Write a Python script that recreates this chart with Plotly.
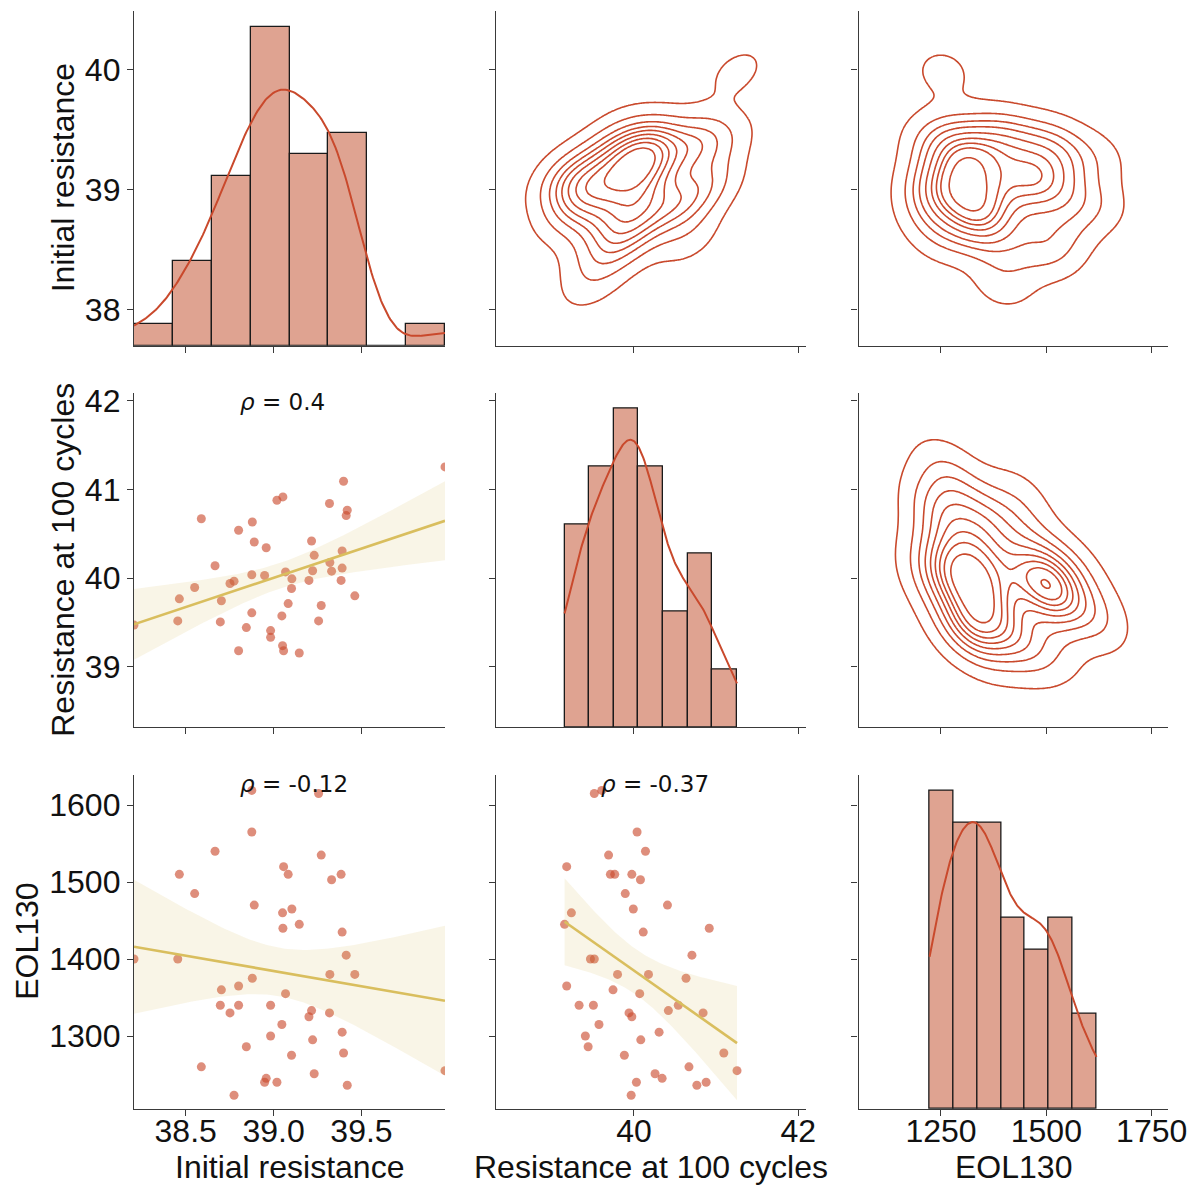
import numpy as np
import plotly.graph_objects as go

# ---- data: one row per cell (48 cells) ----
initial_resistance = [
    39.975, 39.398, 39.019, 39.053, 39.318, 39.419, 39.413, 38.589, 38.879, 38.801,
    38.890, 38.958, 39.216, 39.231, 39.390, 38.667, 39.320, 39.222, 39.330, 39.390,
    38.876, 38.949, 39.068, 39.104, 39.201, 39.384, 38.752, 38.775, 38.551, 39.102,
    38.464, 38.703, 39.462, 39.083, 39.271, 38.876, 39.047, 38.455, 38.697, 39.256,
    38.845, 38.983, 38.983, 39.051, 39.057, 38.801, 39.146, 38.206,
]
resistance_100 = [
    41.255, 41.094, 40.879, 40.917, 40.842, 40.766, 40.706, 40.670, 40.634, 40.540,
    40.408, 40.343, 40.419, 40.257, 40.306, 40.140, 40.177, 40.083, 40.079, 40.113,
    40.038, 40.030, 40.070, 39.992, 39.974, 39.974, 39.940, 39.966, 39.894, 39.883,
    39.766, 39.745, 39.800, 39.713, 39.691, 39.608, 39.574, 39.517, 39.506, 39.517,
    39.442, 39.408, 39.332, 39.238, 39.181, 39.181, 39.155, 39.470,
]
eol130 = [
    1255, 1278, 1240, 1440, 1330, 1236, 1405, 1260, 1375, 1340,
    1470, 1245, 1333, 1251, 1305, 1540, 1380, 1295, 1503, 1435,
    1565, 1240, 1355, 1465, 1325, 1510, 1330, 1223, 1485, 1275,
    1510, 1360, 1380, 1510, 1535, 1619, 1315, 1400, 1340, 1615,
    1286, 1300, 1340, 1460, 1520, 1365, 1445, 1400,
]

variable_names = ["Initial resistance", "Resistance at 100 cycles", "EOL130"]
hist_bins = [8, 7, 7]
# correlation coefficients printed in the lower panels: (row, col) -> rho
rho_values = {(1, 0): "0.4", (2, 0): "-0.12", (2, 1): "-0.37"}

x_tickvals = [[38.5, 39.0, 39.5], [40, 42], [1250, 1500, 1750]]
y_tickvals = [[38, 39, 40], [39, 40, 41, 42], [1300, 1400, 1500, 1600]]
x_fmt = ["{:.1f}", "{:.0f}", "{:.0f}"]
y_fmt = ["{:.0f}", "{:.0f}", "{:.0f}"]

# ---- style ----
RED = "#C9492C"
HIST_FILL = "#DFA391"
POINT = "rgba(201,73,44,0.62)"
REG_LINE = "#D9BE5E"
REG_BAND = "rgba(217,190,94,0.15)"
AXIS = "#3a3a3a"
FONT = "Liberation Sans, Arial, sans-serif"

W, H = 1192, 1187
col_px = [(134, 445), (496, 806), (858.5, 1168.3)]
row_px = [(11, 345.7), (392.5, 727), (774.7, 1109)]
x_dom = [[a / W, b / W] for a, b in col_px]
y_dom = [[1 - b / H, 1 - a / H] for a, b in row_px]

data = [np.array(initial_resistance, float), np.array(resistance_100, float),
        np.array(eol130, float)]
n = len(data[0])

x_ranges = [[data[0].min(), data[0].max()], [38.32, 42.095], [1054.3, 1789.4]]
y_ranges = [[37.697, 40.486], [38.32, 42.095], [1205.2, 1639.4]]


def kde1d(v, grid):
    bw = v.std(ddof=1) * n ** (-1 / 5)
    z = (grid[:, None] - v[None, :]) / bw
    return np.exp(-0.5 * z ** 2).sum(axis=1) / (n * bw * np.sqrt(2 * np.pi))


def kde2d_isoprop(x, y, gridsize=200, cut=3):
    pts = np.vstack([x, y])
    cov = np.cov(pts) * (n ** (-1 / 6)) ** 2
    bw = np.sqrt(np.diag(cov))
    gx = np.linspace(x.min() - cut * bw[0], x.max() + cut * bw[0], gridsize)
    gy = np.linspace(y.min() - cut * bw[1], y.max() + cut * bw[1], gridsize)
    inv = np.linalg.inv(cov)
    XX, YY = np.meshgrid(gx, gy)
    dens = np.zeros_like(XX)
    for xi, yi in zip(x, y):
        dx, dy = XX - xi, YY - yi
        q = inv[0, 0] * dx * dx + 2 * inv[0, 1] * dx * dy + inv[1, 1] * dy * dy
        dens += np.exp(-0.5 * q)
    # map density to the share of probability mass lying below it
    flat = dens.ravel()
    order = np.argsort(flat)[::-1]
    cum = np.cumsum(flat[order]) / flat.sum()
    prop = np.empty_like(flat)
    prop[order] = 1 - cum
    return gx.tolist(), gy.tolist(), prop.reshape(dens.shape).tolist()


def ax_name(kind, k):
    return kind if k == 1 else f"{kind}{k}"


def axis_style(**kw):
    base = dict(showgrid=False, zeroline=False, showline=True, linecolor=AXIS,
                linewidth=1.3, ticks="outside", ticklen=6, tickwidth=1.3,
                tickcolor=AXIS, automargin=False,
                tickfont=dict(family=FONT, size=32, color="#111"))
    base.update(kw)
    return base


fig = go.Figure()
layout = {}

for r in range(3):
    for c in range(3):
        k = r * 3 + c + 1
        xs, ys = ax_name("x", k), ax_name("y", k)
        layout[ax_name("xaxis", k)] = axis_style(
            domain=x_dom[c], anchor=ys, range=x_ranges[c], tickmode="array",
            tickvals=x_tickvals[c], ticktext=[x_fmt[c].format(t) for t in x_tickvals[c]],
            showticklabels=(r == 2), ticklabelstandoff=-13)

        xv, yv = data[c], data[r]
        y_text = [y_fmt[r].format(t) for t in y_tickvals[r]]
        if r == c:
            # histogram with kde; the y axis carries the count scale while its
            # ticks mark the row variable, as the other panels of the row do
            counts, edges = np.histogram(xv, bins=hist_bins[r], range=(xv.min(), xv.max()))
            width = edges[1] - edges[0]
            centers = (edges[:-1] + edges[1:]) / 2
            top = counts.max() * 1.05
            lo, hi = y_ranges[r]
            tick_pos = [(t - lo) / (hi - lo) * top for t in y_tickvals[r]]
            layout[ax_name("yaxis", k)] = axis_style(
                domain=y_dom[r], anchor=xs, range=[0, top], tickmode="array",
                tickvals=tick_pos, ticktext=y_text, showticklabels=(c == 0))
            fig.add_trace(go.Bar(
                x=centers.tolist(), y=counts.tolist(), width=width, xaxis=xs, yaxis=ys,
                marker=dict(color=HIST_FILL, line=dict(color="#1a1a1a", width=1.3)),
                showlegend=False, hoverinfo="skip"))
            grid = np.linspace(xv.min(), xv.max(), 200)
            fig.add_trace(go.Scatter(
                x=grid.tolist(), y=(kde1d(xv, grid) * n * width).tolist(), mode="lines",
                xaxis=xs, yaxis=ys, line=dict(color=RED, width=2),
                showlegend=False, hoverinfo="skip"))
            continue

        layout[ax_name("yaxis", k)] = axis_style(
            domain=y_dom[r], anchor=xs, range=y_ranges[r], tickmode="array",
            tickvals=y_tickvals[r], ticktext=y_text, showticklabels=(c == 0))
        if r < c:
            gx, gy, prop = kde2d_isoprop(xv, yv)
            fig.add_trace(go.Contour(
                x=gx, y=gy, z=prop, xaxis=xs, yaxis=ys, autocontour=False,
                contours=dict(start=0.05, end=0.9, size=0.95 / 9, coloring="lines"),
                colorscale=[[0, RED], [1, RED]], line=dict(width=1.6),
                showscale=False, hoverinfo="skip"))
        else:
            fig.add_trace(go.Scatter(
                x=xv.tolist(), y=yv.tolist(), mode="markers", xaxis=xs, yaxis=ys,
                marker=dict(color=POINT, size=9, line=dict(width=0)),
                showlegend=False, hoverinfo="skip"))
            # least squares fit with 95% confidence band
            slope, intercept = np.polyfit(xv, yv, 1)
            grid = np.linspace(xv.min(), xv.max(), 100)
            fit = intercept + slope * grid
            resid = yv - (intercept + slope * xv)
            s = np.sqrt((resid ** 2).sum() / (n - 2))
            sxx = ((xv - xv.mean()) ** 2).sum()
            se = s * np.sqrt(1 / n + (grid - xv.mean()) ** 2 / sxx)
            t975 = 2.013
            fig.add_trace(go.Scatter(
                x=grid.tolist(), y=(fit + t975 * se).tolist(), mode="lines",
                xaxis=xs, yaxis=ys, line=dict(width=0, color=REG_BAND),
                showlegend=False, hoverinfo="skip"))
            fig.add_trace(go.Scatter(
                x=grid.tolist(), y=(fit - t975 * se).tolist(), mode="lines",
                xaxis=xs, yaxis=ys, fill="tonexty", fillcolor=REG_BAND,
                line=dict(width=0, color=REG_BAND), showlegend=False, hoverinfo="skip"))
            fig.add_trace(go.Scatter(
                x=grid.tolist(), y=fit.tolist(), mode="lines", xaxis=xs, yaxis=ys,
                line=dict(color=REG_LINE, width=2.6), showlegend=False, hoverinfo="skip"))

annotations = []
for (r, c), val in rho_values.items():
    k = r * 3 + c + 1
    annotations.append(dict(
        text=f"<i>ρ</i> = {val}", xref=f"{ax_name('x', k)} domain",
        yref=f"{ax_name('y', k)} domain", x=0.333, y=0.972, xanchor="left",
        yanchor="middle", showarrow=False,
        font=dict(family="DejaVu Sans, sans-serif", size=23, color="#111")))

# axis titles
for c, name in enumerate(variable_names):
    annotations.append(dict(
        text=name, xref="paper", yref="paper", x=sum(x_dom[c]) / 2, y=1 - 1167 / H,
        xanchor="center", yanchor="middle", showarrow=False,
        font=dict(family=FONT, size=32, color="#111")))
y_title_x = [63, 63, 27]
for r, name in enumerate(variable_names):
    annotations.append(dict(
        text=name, xref="paper", yref="paper", x=y_title_x[r] / W, y=sum(y_dom[r]) / 2,
        xanchor="center", yanchor="middle", textangle=-90, showarrow=False,
        font=dict(family=FONT, size=32, color="#111")))

fig.update_layout(
    width=W, height=H, margin=dict(l=0, r=0, t=0, b=0, autoexpand=False),
    paper_bgcolor="white", plot_bgcolor="white", showlegend=False,
    bargap=0, annotations=annotations, **layout)

fig.write_html("out.html")
